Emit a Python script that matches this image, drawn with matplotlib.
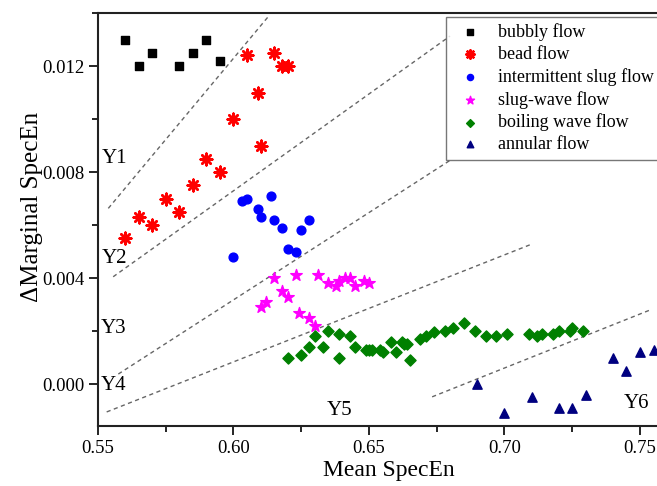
import numpy as np
import matplotlib
matplotlib.use('Agg')
import matplotlib.pyplot as plt
from matplotlib.ticker import MultipleLocator

## data

bubbly_x = [0.560, 0.565, 0.570, 0.580, 0.585, 0.590, 0.595]
bubbly_y = [0.0130, 0.0120, 0.0125, 0.0120, 0.0125, 0.0130, 0.0122]

bead_x = [0.560, 0.565, 0.570, 0.575, 0.580, 0.585, 0.590, 0.595, 0.600, 0.605,
          0.609, 0.610, 0.615, 0.618, 0.620]
bead_y = [0.0055, 0.0063, 0.0060, 0.0070, 0.0065, 0.0075, 0.0085, 0.0080, 0.0100, 0.0124,
          0.0110, 0.0090, 0.0125, 0.0120, 0.0120]

slug_x = [0.600, 0.603, 0.605, 0.609, 0.610, 0.614, 0.615, 0.618, 0.620, 0.623, 0.625, 0.628]
slug_y = [0.0048, 0.0069, 0.0070, 0.0066, 0.0063, 0.0071, 0.0062, 0.0059, 0.0051, 0.0050, 0.0058, 0.0062]

slugwave_x = [0.610, 0.612, 0.615, 0.618, 0.620, 0.623, 0.624, 0.628, 0.630, 0.631,
              0.635, 0.638, 0.639, 0.641, 0.643, 0.645, 0.648, 0.650]
slugwave_y = [0.0029, 0.0031, 0.0040, 0.0035, 0.0033, 0.0041, 0.0027, 0.0025, 0.0022, 0.0041,
              0.0038, 0.0037, 0.0039, 0.0040, 0.0040, 0.0037, 0.0039, 0.0038]

boiling_x = [0.620, 0.625, 0.628, 0.630, 0.633, 0.635, 0.639, 0.639, 0.643, 0.645,
             0.649, 0.650, 0.651, 0.654, 0.655, 0.658, 0.660, 0.662, 0.663, 0.664,
             0.665, 0.669, 0.671, 0.674, 0.678, 0.681, 0.685, 0.689, 0.693, 0.697,
             0.701, 0.709, 0.712, 0.714, 0.718, 0.720, 0.724, 0.725, 0.729]
boiling_y = [0.0010, 0.0011, 0.0014, 0.0018, 0.0014, 0.0020, 0.0019, 0.0010, 0.0018, 0.0014,
             0.0013, 0.0013, 0.0013, 0.0013, 0.0012, 0.0016, 0.0012, 0.0016, 0.0015, 0.0015,
             0.0009, 0.0017, 0.0018, 0.00195, 0.0020, 0.0021, 0.0023, 0.0020, 0.0018, 0.0018,
             0.0019, 0.0019, 0.0018, 0.0019, 0.0019, 0.0020, 0.0020, 0.0021, 0.0020]

annular_x = [0.690, 0.700, 0.710, 0.720, 0.725, 0.730, 0.740, 0.745, 0.750, 0.755]
annular_y = [0.0000, -0.0011, -0.0005, -0.0009, -0.0009, -0.0004, 0.0010, 0.0005, 0.0012, 0.0013]

# region boundaries (x0, y0, x1, y1)
boundaries = [
    (0.5538, 0.00663, 0.6128, 0.01386),
    (0.5556, 0.00405, 0.6799, 0.01313),
    (0.5575, 0.00038, 0.6805, 0.00848),
    (0.5532, -0.00105, 0.7105, 0.00530),
    (0.6733, -0.00048, 0.7543, 0.00282),
]

region_names = ['Y1', 'Y2', 'Y3', 'Y4', 'Y5', 'Y6']
region_x = [0.5559, 0.5559, 0.5559, 0.5559, 0.6391, 0.7488]
region_y = [0.00852, 0.00474, 0.00211, -0.00004, -0.00101, -0.00073]

## plot

plt.rcParams['font.family'] = 'Liberation Serif'

fig = plt.figure(figsize=(6.57, 4.86), dpi=100)
ax = fig.add_axes([98/657, 1 - 426/486, (680 - 98)/657, (426 - 13)/486])

for x0, y0, x1, y1 in boundaries:
    ax.plot([x0, x1], [y0, y1], color='#666666', linestyle=(0, (3, 2.5)), linewidth=1.0, zorder=1)

ax.scatter(bubbly_x, bubbly_y, marker='s', s=30, color='black', label='bubbly flow', zorder=3)
ax.scatter(bead_x, bead_y, marker=(8, 2, 0), s=70, color='red', linewidths=1.8, label='bead flow', zorder=3)
ax.scatter(slug_x, slug_y, marker='o', s=40, color='blue', label='intermittent slug flow', zorder=3)
ax.scatter(slugwave_x, slugwave_y, marker='*', s=75, color='magenta', label='slug-wave flow', zorder=3)
ax.scatter(boiling_x, boiling_y, marker='D', s=32, color='green', label='boiling wave flow', zorder=3)
ax.scatter(annular_x, annular_y, marker='^', s=45, color='navy', label='annular flow', zorder=3)

for name, tx, ty in zip(region_names, region_x, region_y):
    ax.text(tx, ty, name, fontsize=15, ha='center', va='center')

ax.set_xlim(0.55, 0.55 + (680 - 98) * 0.05 / 135.5)
ax.set_ylim(-0.00158, 0.0140)
ax.xaxis.set_major_locator(MultipleLocator(0.05))
ax.xaxis.set_minor_locator(MultipleLocator(0.025))
ax.yaxis.set_major_locator(MultipleLocator(0.004))
ax.yaxis.set_minor_locator(MultipleLocator(0.002))
ax.xaxis.set_major_formatter(plt.FormatStrFormatter('%.2f'))
ax.yaxis.set_major_formatter(plt.FormatStrFormatter('%.3f'))

ax.tick_params(which='major', direction='out', length=6.5, width=1.2, labelsize=13.5)
ax.tick_params(which='minor', direction='out', length=4, width=1.2)
ax.tick_params(top=False, right=False)
for side in ['left', 'bottom', 'top', 'right']:
    ax.spines[side].set_linewidth(1.5)
    ax.spines[side].set_color('#222222')

ax.set_xlabel('Mean SpecEn', fontsize=17, labelpad=2)
ax.set_ylabel('\u0394Marginal SpecEn', fontsize=18)
ax.yaxis.set_label_coords(-0.095, 0.53)

leg = ax.legend(loc='upper left', bbox_to_anchor=(446/657, 1 - 17/486), bbox_transform=fig.transFigure,
                fontsize=13, markerscale=0.7, frameon=True, fancybox=False, borderaxespad=0,
                labelspacing=0.27, handletextpad=0.55, borderpad=0.35, handlelength=2.0)
leg.get_frame().set_edgecolor('#555555')
leg.get_frame().set_linewidth(1.0)

fig.savefig('out.png', dpi=100)
